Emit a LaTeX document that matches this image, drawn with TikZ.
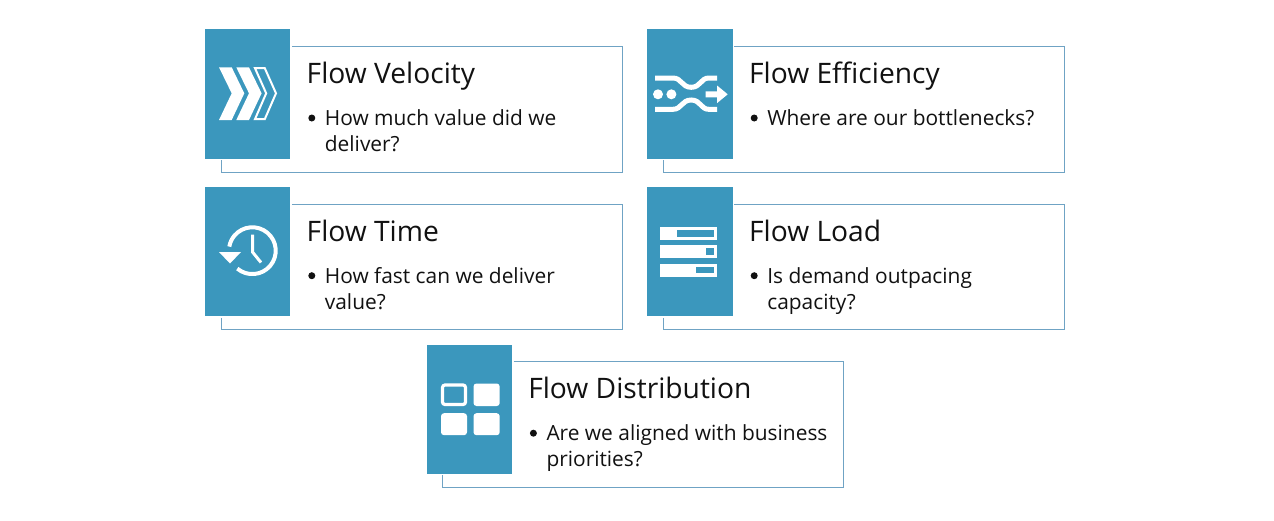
\documentclass[tikz,border=0pt]{standalone}
\usepackage{fontspec}
\setmainfont{Open Sans}
\usetikzlibrary{calc}
\definecolor{tileblue}{HTML}{3B97BD}
\definecolor{frameblue}{HTML}{6FA3C4}
\definecolor{inkblack}{HTML}{111111}
\tikzset{
  tile/.style={fill=tileblue,draw=none},
  frameline/.style={draw=frameblue,line width=1pt},
  titletext/.style={anchor=base west,inner sep=0pt,text=inkblack,font=\fontsize{28.2}{32}\selectfont},
  bodytext/.style={anchor=base west,inner sep=0pt,text=inkblack,font=\fontsize{20.9}{26}\selectfont},
  bulletdot/.style={circle,fill=inkblack,inner sep=0pt,minimum size=7pt},
  iconfill/.style={fill=white,draw=none},
  iconline/.style={draw=white,line width=5pt},
}
% #1 name, #2 x, #3 y of tile, #4 title, #5 line 1, #6 line 2, #7 text shift
\newcommand{\flowpanel}[6]{%
  \fill[tile] (#2,#3) rectangle ++(85.3,129.2);
  \coordinate (#1tr) at ($(#2,#3)+(417,17)$);
  \coordinate (#1tl) at ($(#2,#3)+(87,17)$);
  \coordinate (#1br) at ($(#2,#3)+(417,142.7)$);
  \coordinate (#1bl) at ($(#2,#3)+(16,142.7)$);
  \coordinate (#1bs) at ($(#2,#3)+(16,130.5)$);
  \draw[frameline] (#1tl) -- (#1tr) -- (#1br) -- (#1bl) -- (#1bs);
  \node[titletext] (#1title) at ($(#2,#3)+(101.5,54)$) {#4};
  \node[bulletdot] (#1dot) at ($(#2,#3)+(106.8,88.7)$) {};
  \node[bodytext] (#1a) at ($(#2,#3)+(119.7,96.2)$) {#5};
  \node[bodytext] (#1b) at ($(#2,#3)+(119.7,122.2)$) {#6};
}
\begin{document}
\begin{tikzpicture}[x=1pt,y=-1pt]
\useasboundingbox (0,0) rectangle (1274,520);
\flowpanel{vel}{205}{29.3}{Flow Velocity}{How much value did we}{deliver?}
\flowpanel{eff}{647.4}{29.3}{Flow Efficiency}{Where are our bottlenecks?}{}
\flowpanel{tim}{205}{187}{Flow Time}{How fast can we deliver}{value?}
\flowpanel{loa}{647.4}{187}{Flow Load}{Is demand outpacing}{capacity?}
\flowpanel{dis}{426.6}{344.5}{Flow Distribution}{Are we aligned with business}{priorities?}
% velocity icon
\begin{scope}[shift={(205,29.3)}]
  \foreach \d in {0,17.3}
    \fill[iconfill,shift={(\d,0)}] (14,38) -- (26.7,38) -- (39.3,64) -- (26.7,90.7) -- (14,90.7) -- (26.7,64) -- cycle;
  \draw[draw=white,line width=2pt,line join=miter] (50,38.9) -- (59.8,38.9) -- (71,64) -- (59.8,89.8) -- (50,89.8) -- (61.2,64) -- cycle;
\end{scope}
% efficiency icon
\begin{scope}[shift={(647.7,29.3)}]
  \draw[iconline] (7.3,48.7) -- (25.3,48.7) .. controls (34,48.7) and (34,58) .. (43.5,58) .. controls (53,58) and (53,48.7) .. (61,48.7) -- (69.3,48.7);
  \draw[iconline] (7.3,80) -- (25.3,80) .. controls (34,80) and (34,70.7) .. (43.5,70.7) .. controls (53,70.7) and (53,80) .. (61,80) -- (69.3,80);
  \fill[iconfill] (10.3,65) circle (5) (23.7,65) circle (5);
  \fill[iconfill] (58,62) -- (69.5,62) -- (69.5,56.3) -- (80,65) -- (69.5,73.7) -- (69.5,68) -- (58,68) -- cycle;
\end{scope}
% time icon
\begin{scope}[shift={(205,187)}]
  \draw[draw=white,line width=4pt] (32.3,81.6) arc[start angle=230,end angle=530,radius=23.4pt];
  \fill[iconfill] (14,65) -- (36,65) -- (25,76.5) -- cycle;
  \draw[draw=white,line width=3pt] (47.5,47.5) -- (47.5,65) -- (56,75.5);
\end{scope}
% load icon
\begin{scope}[shift={(647.7,187)}]
  \foreach \t/\ix in {40/29.5,58/58.3,76.5/48.7}
    {\fill[iconfill] (12,\t) rectangle (69.7,\t+13);
     \fill[tileblue] (\ix,\t+3) rectangle (66,\t+9.5);}
\end{scope}
% distribution icon
\begin{scope}[shift={(427,344.5)}]
  \draw[draw=white,line width=3.2pt,rounded corners=2.5pt] (15.5,40.5) rectangle (38.5,60);
  \fill[iconfill,rounded corners=3pt] (46.5,39) rectangle (72.7,61.5);
  \fill[iconfill,rounded corners=3pt] (14,68.7) rectangle (40,90.7);
  \fill[iconfill,rounded corners=3pt] (46.5,68.7) rectangle (72.7,90.7);
\end{scope}
\end{tikzpicture}
\end{document}
